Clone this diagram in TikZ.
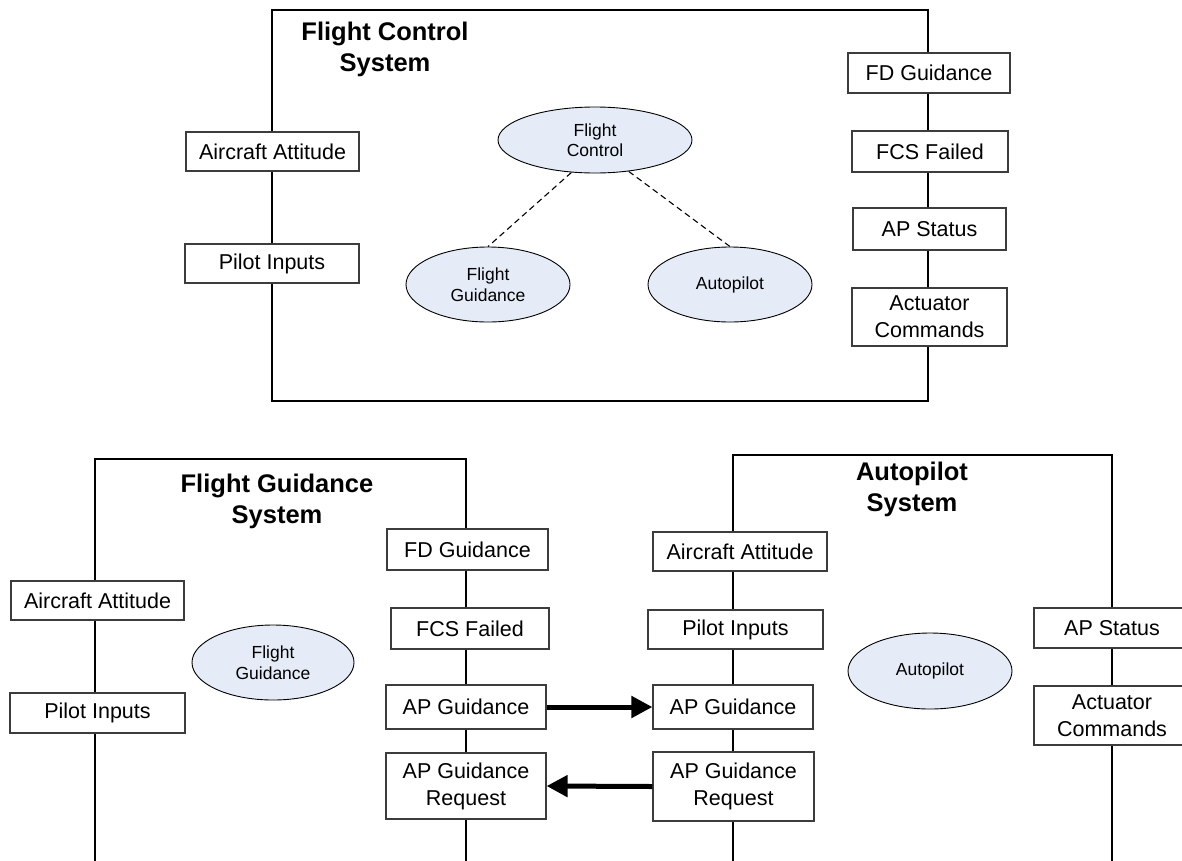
\documentclass[tikz,border=0pt]{standalone}
\usepackage{fontspec}
\setmainfont{Liberation Sans}
\usetikzlibrary{arrows.meta,shapes.geometric}
\definecolor{ovalfill}{RGB}{230,236,247}
\definecolor{boxline}{RGB}{60,60,60}

\begin{document}
\begin{tikzpicture}[x=1pt,y=-1pt,
  frame/.style={line width=2.9pt, draw=black},
  sig/.style={draw=boxline, line width=1.2pt, fill=white, inner sep=0pt,
    align=center, font=\fontsize{21.5}{27}\selectfont},
  proc/.style={ellipse, draw=black, line width=0.9pt, fill=ovalfill, inner sep=0pt,
    align=center, font=\fontsize{17.5}{20.5}\selectfont},
  title/.style={align=center, font=\fontsize{25.5}{31}\selectfont\bfseries},
  link/.style={line width=1.1pt, dash pattern=on 6pt off 4pt},
  flow/.style={line width=5pt, -{Triangle[length=21pt,width=21pt]}}
]
\useasboundingbox (0,0) rectangle (1182,860);

% ---------- Flight Control System ----------
\draw[frame] (272,10) rectangle (928,401);
\node[title] (tfcs) at (385,49) {Flight Control\\System};

\node[sig, minimum width=173pt, minimum height=39pt] (ca1) at (272.5,151.5) {Aircraft Attitude};
\node[sig, minimum width=174pt, minimum height=39pt] (pi1) at (272,263.5) {Pilot Inputs};

\node[sig, minimum width=162pt, minimum height=40pt] (fd1) at (929,73) {FD Guidance};
\node[sig, minimum width=156pt, minimum height=41pt] (fcs1) at (930,151.5) {FCS Failed};
\node[sig, minimum width=153pt, minimum height=42pt] (aps1) at (929.5,229) {AP Status};
\node[sig, minimum width=155pt, minimum height=58pt] (act1) at (929.5,317) {Actuator\\Commands};

\node[proc, minimum width=194pt, minimum height=66pt] (fc) at (595,140) {Flight\\Control};
\node[proc, minimum width=164pt, minimum height=75pt] (fg1) at (488,284.5) {Flight\\Guidance};
\node[proc, minimum width=164pt, minimum height=75pt] (ap1) at (730,284.5) {Autopilot};

\draw[link] (fc.-126) -- (fg1.north);
\draw[link] (fc.-43) -- (ap1.north);

% ---------- Flight Guidance System ----------
\draw[frame] (95,864) -- (95,459) -- (466,459) -- (466,864);
\node[title] (tfgs) at (277,501) {Flight Guidance\\System};

\node[sig, minimum width=173pt, minimum height=39pt] (ca2) at (97.5,600.5) {Aircraft Attitude};
\node[sig, minimum width=175pt, minimum height=40pt] (pi2) at (97.5,713) {Pilot Inputs};
\node[proc, minimum width=162pt, minimum height=75pt] (fg2) at (273,662.5) {Flight\\Guidance};

\node[sig, minimum width=161pt, minimum height=41pt] (fd2) at (467.5,549.5) {FD Guidance};
\node[sig, minimum width=158pt, minimum height=41pt] (fcs2) at (470,628.5) {FCS Failed};
\node[sig, minimum width=160pt, minimum height=44pt] (apg2) at (466,707) {AP Guidance};
\node[sig, minimum width=160pt, minimum height=66pt] (apr2) at (466,786) {AP Guidance\\Request};

% ---------- Autopilot System ----------
\draw[frame] (733,864) -- (733,455) -- (1112,455) -- (1112,864);
\node[title] (taps) at (912,489) {Autopilot\\System};

\node[sig, minimum width=174pt, minimum height=39pt] (ca3) at (740,551.5) {Aircraft Attitude};
\node[sig, minimum width=175pt, minimum height=39pt] (pi3) at (735.5,629.5) {Pilot Inputs};
\node[sig, minimum width=160pt, minimum height=44pt] (apg3) at (733,707) {AP Guidance};
\node[sig, minimum width=161pt, minimum height=69pt] (apr3) at (733.5,786.5) {AP Guidance\\Request};

\node[proc, minimum width=164pt, minimum height=76pt] (ap3) at (930,671) {Autopilot};

\node[sig, minimum width=156pt, minimum height=40pt] (aps3) at (1112,628) {AP Status};
\node[sig, minimum width=156pt, minimum height=59pt] (act3) at (1112,715.5) {Actuator\\Commands};

% ---------- data flows between the systems ----------
\draw[flow] (apg2.east) -- (apg3.west);
\draw[flow] (apr3.west) -- (apr2.east);
\end{tikzpicture}
\end{document}
